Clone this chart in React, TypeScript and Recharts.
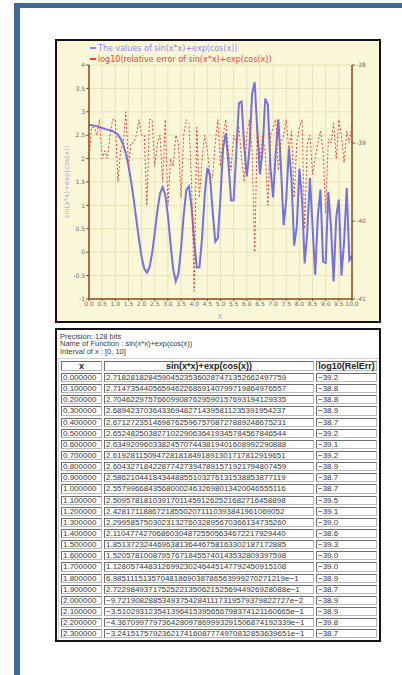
import React from 'react';
import { LineChart, Line, XAxis, YAxis, CartesianGrid } from 'recharts';

// x from 0 to 10, step 0.1
const xValues = [
  0, 0.1, 0.2, 0.3, 0.4, 0.5, 0.6, 0.7, 0.8, 0.9,
  1, 1.1, 1.2, 1.3, 1.4, 1.5, 1.6, 1.7, 1.8, 1.9,
  2, 2.1, 2.2, 2.3, 2.4, 2.5, 2.6, 2.7, 2.8, 2.9,
  3, 3.1, 3.2, 3.3, 3.4, 3.5, 3.6, 3.7, 3.8, 3.9,
  4, 4.1, 4.2, 4.3, 4.4, 4.5, 4.6, 4.7, 4.8, 4.9,
  5, 5.1, 5.2, 5.3, 5.4, 5.5, 5.6, 5.7, 5.8, 5.9,
  6, 6.1, 6.2, 6.3, 6.4, 6.5, 6.6, 6.7, 6.8, 6.9,
  7, 7.1, 7.2, 7.3, 7.4, 7.5, 7.6, 7.7, 7.8, 7.9,
  8, 8.1, 8.2, 8.3, 8.4, 8.5, 8.6, 8.7, 8.8, 8.9,
  9, 9.1, 9.2, 9.3, 9.4, 9.5, 9.6, 9.7, 9.8, 9.9,
  10,
];

// sin(x*x)+exp(cos(x))
const fnValues = [
  2.7183, 2.7147, 2.7046, 2.6894, 2.6713, 2.6525, 2.6349, 2.6193, 2.6043, 2.5862,
  2.558, 2.5096, 2.4282, 2.2996, 2.1105, 1.8514, 1.5206, 1.1281, 0.6985, 0.2723,
  -0.0972, -0.351, -0.4367, -0.3242, -0.0213, 0.4156, 0.8835, 1.25, 1.3897, 1.2279,
  0.7837, 0.1841, -0.3594, -0.6219, -0.4642, 0.0808, 0.7914, 1.3302, 1.4078, 0.9613,
  0.2322, -0.3293, -0.3231, 0.3179, 1.2239, 1.7954, 1.6329, 0.8891, 0.2247, 0.3038,
  1.1956, 2.2285, 2.5417, 1.9245, 1.112, 1.1122, 2.1159, 3.183, 3.2188, 2.2783,
  1.6203, 2.2034, 3.3838, 3.6309, 2.5808, 1.6685, 2.1764, 3.2832, 3.1593, 1.7932,
  1.1714, 2.1279, 2.8375, 1.8105, 0.5751, 1.12, 2.2203, 1.5517, 0.1427, 0.5456,
  1.7847, 1.1385, -0.2417, 0.4265, 1.587, 0.5543, -0.484, 0.7607, 1.3354, -0.2002,
  -0.2278, 1.2914, 0.5596, -0.6246, 0.7532, 1.1237, -0.4957, 0.2249, 1.37, -0.1705,
  -0.0743,
];

// log10(relative error)
const relErr = [
  -39.2, -38.8, -38.8, -38.9, -38.7, -39.2, -39.1, -39.2, -38.9, -38.7,
  -38.7, -39.5, -39.1, -39.0, -38.6, -39.3, -39.0, -39.0, -38.9, -38.7,
  -38.9, -38.9, -39.8, -38.7, -38.7, -39.3, -39.0, -38.9, -39.5, -38.7,
  -39.8, -39.2, -39.3, -38.9, -39.0, -39.7, -38.9, -38.7, -38.75, -39.5,
  -40.9, -38.8, -39.7, -39.2, -38.9, -39.1, -39.4, -39.45, -39.0, -38.7,
  -39.3, -38.9, -38.7, -39.1, -39.35, -38.9, -39.0, -38.8, -39.2, -39.5,
  -38.9, -38.7, -39.1, -40.4, -38.8, -39.2, -38.9, -39.1, -39.8, -38.9,
  -38.8, -38.7, -39.35, -39.0, -38.9, -38.7, -39.1, -38.85, -39.7, -39.0,
  -38.8, -38.7, -40.1, -39.0, -38.9, -39.4, -39.2, -39.0, -38.85, -39.1,
  -39.9, -38.95, -39.0, -38.75, -39.2, -38.7, -38.9, -39.25, -38.85, -39.0,
  -38.75,
];

const xTicks = [0, 0.5, 1, 1.5, 2, 2.5, 3, 3.5, 4, 4.5, 5, 5.5, 6, 6.5, 7, 7.5, 8, 8.5, 9, 9.5, 10];
const leftTicks = [-1, -0.5, 0, 0.5, 1, 1.5, 2, 2.5, 3, 3.5, 4];
const rightTicks = [-41, -40, -39, -38];

// exact values shown in the table (rows 0.0 .. 2.3)
const tableFn = [
  '2.718281828459045235360287471352662497759',
  '2.714735440565946226869140799719864976557',
  '2.704622975766099087629590157693194129335',
  '2.689423703643369482714395811235391954237',
  '2.671272351469876259675708727889248675231',
  '2.652482503827102290636419345784567846544',
  '2.634920960338245707443819401608992290888',
  '2.619281150947281818491891301717812919651',
  '2.604327184228774273947891571921794807459',
  '2.586210441843448855103276131538853877119',
  '2.557996684356800024632698013420046555116',
  '2.509578181039170114591262521682716458898',
  '2.428171188672185502071110393841961069052',
  '2.299585750302313276032895670366134735260',
  '2.110477427068603048725505634672217929440',
  '1.851372324469638136446758163302187172885',
  '1.520578100879576718455740143532809397598',
  '1.128057448312699230246445147792450915108',
  '6.985111513570481869038786563999270271219e\u22121',
  '2.722984937175252213506215256944926928088e\u22121',
  '\u22129.721908288534937542841117319579379822727e\u22122',
  '\u22123.510293123541396415395656798374121160665e\u22121',
  '\u22124.367099779736428097869993291506874192339e\u22121',
  '\u22123.241517579236217416087774970832853639651e\u22121',
];

const BLUE = '#7272e2';
const RED = '#e8473a';
const AXIS = '#8a4a1e';
const FRAME = '#44679a';

const data = xValues.map((x, i) => ({ x, value: fnValues[i], err: relErr[i] }));

const tableRows = tableFn.map((fn, i) => ({
  x: xValues[i].toFixed(6),
  fn,
  err: relErr[i].toFixed(1).replace('-', '\u2212'),
}));

const tickStyle = { fontSize: 6, fill: '#6a6a6a', fontFamily: 'DejaVu Sans' };

const cellBase: React.CSSProperties = {
  height: 9.15,
  boxSizing: 'border-box',
  padding: '0 0 0 1px',
  lineHeight: '7px',
  whiteSpace: 'nowrap',
  overflow: 'hidden',
  borderStyle: 'solid',
  borderWidth: 1,
  borderColor: '#6e6e6e #b8b8b8 #b8b8b8 #6e6e6e',
  background: '#fff',
};

const headCell: React.CSSProperties = {
  ...cellBase,
  fontWeight: 'bold',
  fontSize: 9,
  lineHeight: '8px',
  padding: 0,
  textAlign: 'center',
  color: '#222',
  overflow: 'visible',
};

const App: React.FC = () => {
  return (
    <div style={{ position: 'absolute', left: 0, top: 0, width: 402, height: 675, background: '#fff', overflow: 'hidden' }}>
      {/* page frame */}
      <div
        style={{
          position: 'absolute',
          left: 14,
          top: 3,
          width: 400,
          height: 680,
          borderTop: `5px solid ${FRAME}`,
          borderLeft: `6px solid ${FRAME}`,
          boxSizing: 'border-box',
        }}
      />

      {/* chart box */}
      <div
        style={{
          position: 'absolute',
          left: 55,
          top: 39,
          width: 326,
          height: 284,
          boxSizing: 'border-box',
          border: '2px solid #151515',
          background: '#fbf8d9',
        }}
      >
        <LineChart width={322} height={280} data={data} margin={{ top: 24, right: 0, bottom: 0, left: 0 }}>
          <CartesianGrid yAxisId="left" stroke="#e9e2b2" strokeWidth={1} />
          <XAxis
            dataKey="x"
            type="number"
            domain={[0, 10]}
            ticks={xTicks}
            interval={0}
            tickFormatter={(v: number) => v.toFixed(1)}
            height={22}
            axisLine={{ stroke: AXIS, strokeWidth: 1.5 }}
            tickLine={{ stroke: AXIS }}
            tick={tickStyle}
            tickSize={2}
            tickMargin={1}
          />
          <YAxis
            yAxisId="left"
            domain={[-1, 4]}
            ticks={leftTicks}
            interval={0}
            width={32}
            axisLine={{ stroke: AXIS, strokeWidth: 1.5 }}
            tickLine={{ stroke: AXIS }}
            tick={tickStyle}
            tickSize={3}
            tickMargin={1}
          />
          <YAxis
            yAxisId="right"
            orientation="right"
            domain={[-41, -38]}
            ticks={rightTicks}
            interval={0}
            width={27}
            axisLine={{ stroke: AXIS, strokeWidth: 1.5 }}
            tickLine={{ stroke: AXIS }}
            tick={tickStyle}
            tickSize={3}
            tickMargin={1}
          />
          <Line
            yAxisId="left"
            type="linear"
            dataKey="value"
            stroke={BLUE}
            strokeWidth={2}
            dot={false}
            activeDot={false}
            isAnimationActive={false}
          />
          <Line
            yAxisId="right"
            type="linear"
            dataKey="err"
            stroke={RED}
            strokeWidth={1}
            strokeDasharray="2 2"
            dot={false}
            activeDot={false}
            isAnimationActive={false}
          />
        </LineChart>
      </div>

      {/* legend */}
      <div style={{ position: 'absolute', left: 90, top: 42.5, fontFamily: 'DejaVu Sans', fontSize: 8, lineHeight: '11px', whiteSpace: 'nowrap' }}>
        <div style={{ color: '#8b8be8' }}>
          <span style={{ display: 'inline-block', width: 6, height: 2, background: '#8b8be8', verticalAlign: 'middle', marginRight: 2 }} />
          The values of sin(x*x)+exp(cos(x))
        </div>
        <div style={{ color: '#f0403a' }}>
          <span style={{ display: 'inline-block', width: 6, height: 2, background: '#f0403a', verticalAlign: 'middle', marginRight: 2 }} />
          log10(relative error of sin(x*x)+exp(cos(x))
        </div>
      </div>

      {/* axis titles */}
      <div
        style={{
          position: 'absolute',
          left: 67,
          top: 182,
          transform: 'translate(-50%, -50%) rotate(-90deg)',
          fontFamily: 'DejaVu Sans',
          fontSize: 7,
          color: '#a7a7e6',
          whiteSpace: 'nowrap',
        }}
      >
        sin(x*x)+exp(cos(x))
      </div>
      <div
        style={{
          position: 'absolute',
          left: 220,
          top: 316,
          transform: 'translate(-50%, -50%)',
          fontFamily: 'DejaVu Sans',
          fontSize: 8,
          color: '#a0a0e4',
        }}
      >
        x
      </div>

      {/* table box */}
      <div
        style={{
          position: 'absolute',
          left: 55,
          top: 328,
          width: 326,
          height: 314,
          boxSizing: 'border-box',
          border: '2px solid #151515',
          background: '#fff',
          overflow: 'hidden',
          fontFamily: 'Liberation Sans',
          color: '#3a3a3a',
        }}
      >
        <div style={{ padding: '2.5px 0 0 3px', fontSize: 7.5, lineHeight: '7.5px', whiteSpace: 'nowrap' }}>
          <div>Precision: 128 bits</div>
          <div>Name of Function : sin(x*x)+exp(cos(x))</div>
          <div>Interval of x : [0, 10]</div>
        </div>
        <table
          style={{
            marginTop: 3,
            marginLeft: 1,
            width: 322,
            tableLayout: 'fixed',
            borderCollapse: 'separate',
            borderSpacing: 2,
            borderStyle: 'solid',
            borderWidth: 1,
            borderColor: '#d0d0d0 #707070 #707070 #d0d0d0',
            fontSize: 8,
          }}
        >
          <colgroup>
            <col style={{ width: 41 }} />
            <col style={{ width: 210 }} />
            <col style={{ width: 61 }} />
          </colgroup>
          <thead>
            <tr>
              <th style={headCell}>x</th>
              <th style={headCell}>sin(x*x)+exp(cos(x))</th>
              <th style={headCell}>log10(RelErr)</th>
            </tr>
          </thead>
          <tbody>
            {tableRows.map((row) => (
              <tr key={row.x}>
                <td style={cellBase}>{row.x}</td>
                <td style={cellBase}>{row.fn}</td>
                <td style={cellBase}>{row.err}</td>
              </tr>
            ))}
          </tbody>
        </table>
      </div>
    </div>
  );
};

export default App;
